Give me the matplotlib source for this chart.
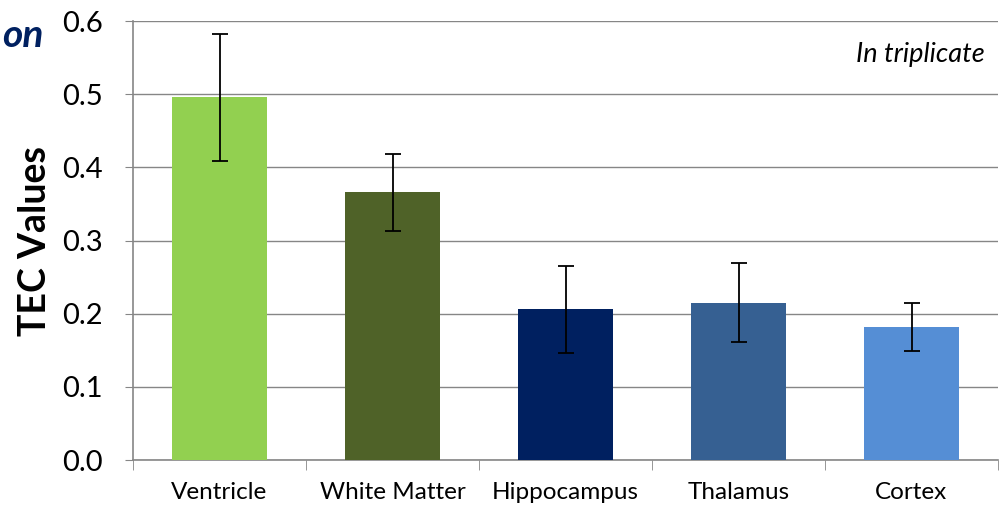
import matplotlib
matplotlib.use("Agg")
import matplotlib.pyplot as plt
import numpy as np

categories = ["Ventricle", "White Matter", "Hippocampus", "Thalamus", "Cortex"]
values = [0.496, 0.366, 0.206, 0.215, 0.182]
errors = [0.087, 0.053, 0.060, 0.054, 0.033]
colors = ["#92D050", "#4F6228", "#002060", "#366092", "#558ED5"]
yticks = [0.0, 0.1, 0.2, 0.3, 0.4, 0.5, 0.6]

plt.rcParams['font.family'] = ['Lato', 'DejaVu Sans']

fig = plt.figure(figsize=(10, 5.05), dpi=100)
ax = fig.add_axes([0.133, 0.089, 0.865, 0.869])

x = np.arange(len(categories))
ax.bar(x, values, width=0.55, color=colors, zorder=3)
ax.errorbar(x, values, yerr=errors, fmt='none', ecolor='black', elinewidth=1.3,
            capsize=6, capthick=1.3, zorder=4)

ax.set_xlim(-0.5, len(categories) - 0.5)
ax.set_ylim(0, 0.6)
ax.set_yticks(yticks)
ax.set_yticklabels([f"{v:.1f}" for v in yticks], fontsize=21)
ax.set_xticks(x)
ax.set_xticklabels(categories, fontsize=17.5)
ax.set_xticks(np.arange(-0.5, len(categories), 1.0), minor=True)
ax.tick_params(axis='x', which='major', length=0, pad=16)
ax.tick_params(axis='x', which='minor', length=7, color='#868686', direction='out')
ax.tick_params(axis='y', length=6, color='#868686', direction='out', pad=16)

ax.yaxis.grid(True, color='#868686', linewidth=1, zorder=0)
ax.set_axisbelow(True)
for s in ['top', 'right']:
    ax.spines[s].set_visible(False)
for s in ['left', 'bottom']:
    ax.spines[s].set_color('#868686')
    ax.spines[s].set_linewidth(1.2)

ax.set_ylabel("TEC Values", fontsize=27, fontweight='bold', labelpad=7)
ax.text(0.985, 0.925, "In triplicate", transform=ax.transAxes, ha='right', va='center',
        fontsize=19.5, style='italic')

fig.text(0.002, 0.93, "on", ha='left', va='center', fontsize=28, fontweight='bold',
         style='italic', color='#002060')

fig.savefig("out.png", dpi=100)
